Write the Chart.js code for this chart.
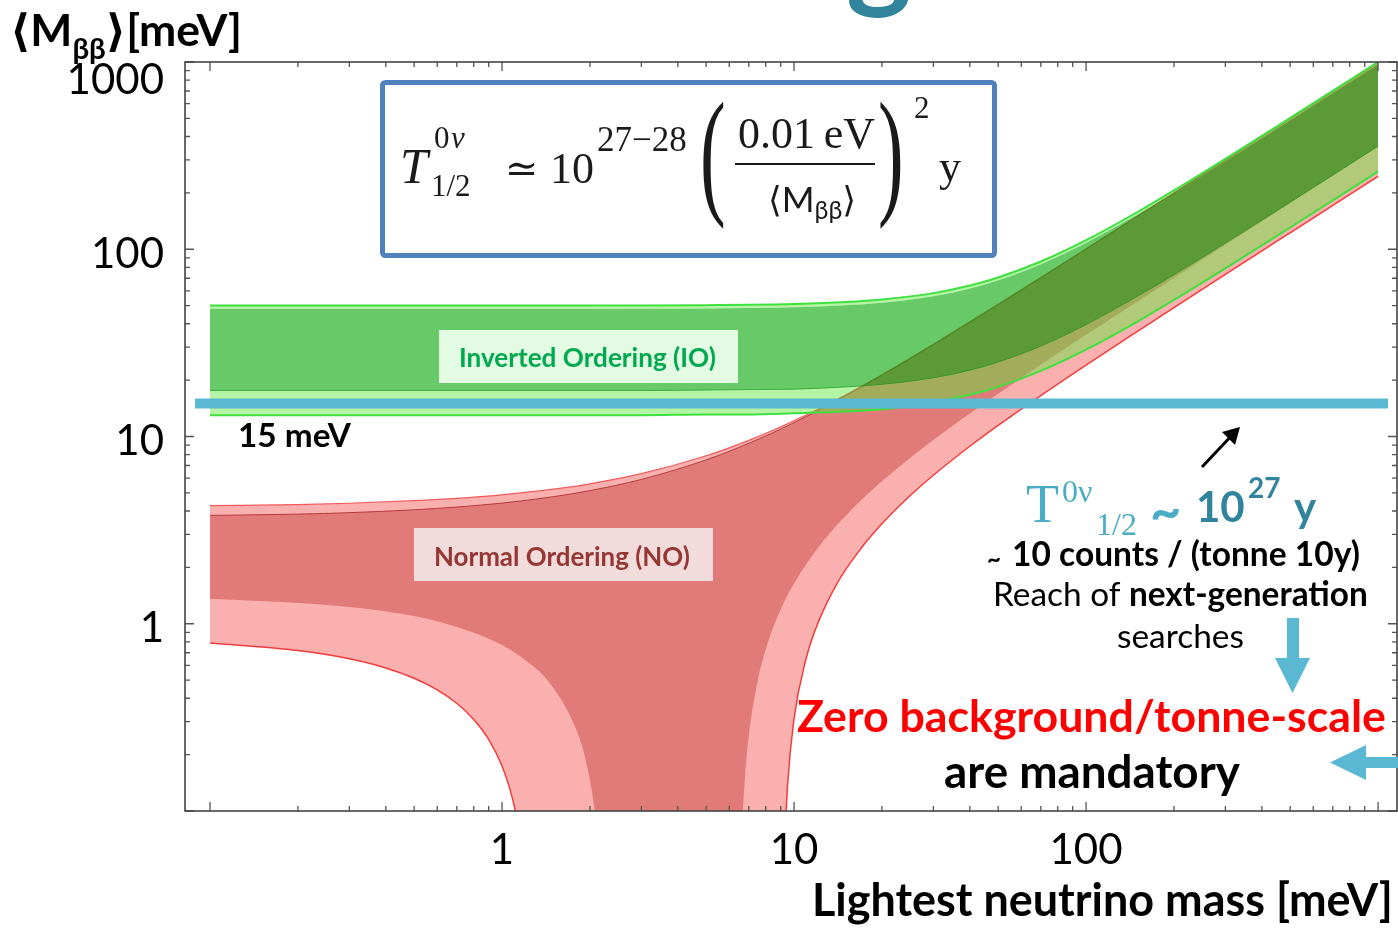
<!DOCTYPE html>
<html>
<head>
<meta charset="utf-8">
<title>Effective Majorana mass vs lightest neutrino mass</title>
<script src="https://cdn.jsdelivr.net/npm/chart.js@4.4.1/dist/chart.umd.min.js"></script>
<style>
  html, body { margin: 0; padding: 0; background: #ffffff; }
  #wrap { position: relative; width: 1398px; height: 929px; }
  canvas { display: block; }
</style>
</head>
<body>
<div id="wrap"><canvas id="chart" width="1398" height="929"></canvas></div>
<script>
// ---- Allowed bands of <M_bb> [meV] versus the lightest neutrino mass [meV] ----

// Inverted ordering, sampled on a common mass grid
const ioMass       = [0.1, 1, 3, 5, 7, 10, 15, 20, 30, 40, 50, 70, 100, 150, 200, 300, 500, 700, 1000];
const ioLightUpper = [50.0, 50.0, 50.1, 50.3, 50.5, 51.0, 52.2, 53.9, 58.3, 64.0, 70.7, 86.0, 111.8, 158.1, 206.2, 304.1, 502.5, 701.8, 1001];
const ioDarkUpper  = [48.0, 48.0, 48.1, 48.3, 48.5, 49.0, 50.2, 51.8, 56.1, 61.7, 68.3, 83.2, 108.2, 153.2, 199.9, 294.9, 487.4, 680.7, 971];
const ioDarkLower  = [17.6, 17.6, 17.6, 17.7, 17.8, 17.9, 18.4, 19.0, 20.6, 22.6, 25.0, 30.4, 39.6, 56.1, 73.1, 107.9, 178.4, 249.1, 355.4];
const ioLightLower = [13.0, 13.0, 13.0, 13.1, 13.1, 13.3, 13.6, 14.0, 15.2, 16.7, 18.4, 22.4, 29.1, 41.1, 53.6, 79.1, 130.7, 182.5, 260.3];

// Normal ordering, upper edges
const noUpperMass  = [0.1, 0.2, 0.3, 0.5, 0.7, 1, 1.5, 2, 3, 5, 7, 10, 15, 20, 30, 50, 70, 100, 150, 200, 300, 500, 700, 1000];
const noLightUpper = [4.27, 4.33, 4.40, 4.54, 4.67, 4.88, 5.23, 5.59, 6.33, 7.89, 9.54, 12.14, 16.67, 21.34, 31.1, 50.8, 70.6, 100.5, 150.5, 200.5, 300.5, 500, 700, 1000];
const noDarkUpper  = [3.79, 3.85, 3.92, 4.06, 4.20, 4.41, 4.77, 5.14, 5.90, 7.50, 9.20, 11.86, 16.49, 21.24, 30.92, 50.56, 70.34, 100.1, 149.9, 199.7, 299.4, 498.8, 698.2, 997.4];

// Normal ordering, lower edges (the mass can cancel: 0.001 sits below the axis floor)
const noDarkLowerMass = [0.1, 0.2, 0.3, 0.5, 0.7, 1, 1.2, 1.4, 1.6, 1.8, 1.9, 2, 2.05, 2.1, 2.2, 2.25, 4, 6.5, 6.6, 6.7, 6.8, 7, 7.5, 8, 9, 10, 12, 15, 20, 30, 50, 70, 100, 150, 200, 300, 500, 700, 1000];
const noDarkLower     = [1.36, 1.29, 1.23, 1.10, 0.96, 0.77, 0.64, 0.52, 0.39, 0.27, 0.21, 0.146, 0.116, 0.086, 0.026, 0.001, 0.001, 0.001, 0.059, 0.108, 0.156, 0.253, 0.49, 0.73, 1.19, 1.64, 2.51, 3.76, 5.76, 9.58, 16.9, 24.2, 34.9, 52.6, 70.3, 105.7, 176.2, 246.8, 352.6];
const noLightLowerMass = [0.1, 0.2, 0.3, 0.4, 0.5, 0.6, 0.7, 0.8, 0.9, 1, 1.05, 1.1, 1.15, 1.2, 1.25, 5, 9.1, 9.2, 9.3, 9.5, 10, 11, 12, 14, 17, 20, 25, 30, 40, 50, 70, 100, 150, 200, 300, 500, 700, 1000];
const noLightLower     = [0.789, 0.719, 0.650, 0.581, 0.512, 0.444, 0.376, 0.308, 0.241, 0.174, 0.140, 0.107, 0.073, 0.040, 0.001, 0.001, 0.001, 0.030, 0.065, 0.136, 0.311, 0.652, 0.984, 1.63, 2.54, 3.42, 4.84, 6.21, 8.87, 11.46, 16.55, 24.07, 36.45, 48.78, 73.35, 122.4, 171.4, 245.0];

// Next-generation reach (meV) and the span of its marker line (lightest mass, meV)
const reachValue = 15;
const reachSpan  = [0.0889, 1082];

// Axis ranges and labelled ticks
const xRange = [0.0821, 1161];
const yRange = [0.1, 1000];
const xTickLabels = [1, 10, 100];
const yTickLabels = [1, 10, 100, 1000];

// ---- styling ----
const LATO  = 'Lato, "DejaVu Sans", sans-serif';
const SERIF = '"Liberation Serif", "DejaVu Serif", serif';
const IO_LIGHT = 'rgba(89,233,55,0.45)';
const IO_DARK  = 'rgba(18,171,18,0.645)';
const NO_LIGHT = '#fbb0b0';
const NO_DARK  = '#e07b79';
const REACH_BLUE = '#5bb8d3';

const pts = (xs, ys) => xs.map((x, i) => ({ x, y: ys[i] }));
const near = (v, list) => list.some(t => Math.abs(v - t) < t * 1e-6);

// frame and inward tick marks, placed through the chart's own scales
const frameTicks = {
  id: 'frameTicks',
  afterDatasetsDraw(chart) {
    const { ctx, chartArea: a, scales: { x, y } } = chart;
    ctx.save();
    ctx.strokeStyle = '#555';
    ctx.lineWidth = 1.3;
    const vals = [];
    for (const d of [0.1, 1, 10, 100]) for (let k = 1; k <= 9; k++) vals.push({ v: d * k, major: k === 1 });
    vals.push({ v: 1000, major: true });
    ctx.beginPath();
    for (const { v, major } of vals) {
      const len = major ? 9 : 5;
      const px = x.getPixelForValue(v);
      if (px >= a.left && px <= a.right) {
        ctx.moveTo(px, a.bottom); ctx.lineTo(px, a.bottom - len);
        ctx.moveTo(px, a.top); ctx.lineTo(px, a.top + len);
      }
      const py = y.getPixelForValue(v);
      if (py >= a.top - 0.5 && py <= a.bottom + 0.5) {
        ctx.moveTo(a.left, py); ctx.lineTo(a.left + len, py);
        ctx.moveTo(a.right, py); ctx.lineTo(a.right - len, py);
      }
    }
    ctx.stroke();
    ctx.strokeStyle = '#444';
    ctx.lineWidth = 1.6;
    ctx.strokeRect(a.left, a.top, a.right - a.left, a.bottom - a.top);
    ctx.restore();
  }
};

// text runs scaled so that the whole run spans a given width
function fittedScale(ctx, parts, width) {
  let w = 0;
  for (const p of parts) { ctx.font = `${p.weight || 'normal'} ${p.size || 100}px ${p.family || LATO}`; w += ctx.measureText(p.t).width; }
  return width / w;
}
function drawRun(ctx, parts, x0, x1, baseline) {
  const k = fittedScale(ctx, parts, x1 - x0);
  let x = x0;
  ctx.textAlign = 'left';
  ctx.textBaseline = 'alphabetic';
  for (const p of parts) {
    ctx.font = `${p.weight || 'normal'} ${(p.size || 100) * k}px ${p.family || LATO}`;
    ctx.fillStyle = p.color || '#000';
    ctx.fillText(p.t, x, baseline + (p.dy || 0) * k);
    x += ctx.measureText(p.t).width;
  }
}
function put(ctx, t, x, y, font, color, align) {
  ctx.font = font;
  ctx.fillStyle = color;
  ctx.textAlign = align || 'left';
  ctx.textBaseline = 'alphabetic';
  ctx.fillText(t, x, y);
}
function bigParen(ctx, ch, x, baseline) {
  ctx.save();
  ctx.translate(x, baseline);
  ctx.scale(0.55, 1);
  ctx.font = `140px ${SERIF}`;
  ctx.fillStyle = '#1a1a1a';
  ctx.textAlign = 'left';
  ctx.fillText(ch, 0, 0);
  ctx.restore();
}

const annotations = {
  id: 'annotations',
  afterDraw(chart) {
    const ctx = chart.ctx;
    ctx.save();

    // partial heading glyph cut by the top edge
    put(ctx, 'g', 846, -5, `bold 125px ${LATO}`, '#31849b');

    // y-axis title
    drawRun(ctx, [
      { t: '\u27E8', weight: 'bold', size: 100 },
      { t: 'M', weight: 'bold', size: 100 },
      { t: '\u03B2\u03B2', weight: 'bold', size: 66, dy: 30 },
      { t: '\u27E9', weight: 'bold', size: 100 },
      { t: '[meV]', weight: 'bold', size: 100 }
    ], 10, 242, 46);

    // x-axis title
    drawRun(ctx, [{ t: 'Lightest neutrino mass [meV]', weight: 'bold' }], 812, 1393, 916);

    // formula box
    ctx.fillStyle = '#fff';
    ctx.fillRect(382, 82, 613, 174);
    ctx.strokeStyle = '#4f81bd';
    ctx.lineWidth = 5;
    ctx.beginPath();
    ctx.roundRect(382.5, 82.5, 612, 173, 3);
    ctx.stroke();

    const ink = '#1a1a1a';
    put(ctx, 'T', 400, 183, `italic 50px ${SERIF}`, ink);
    put(ctx, '0', 434, 148, `31px ${SERIF}`, ink);
    put(ctx, '\u03BD', 451, 148, `italic 31px ${SERIF}`, ink);
    put(ctx, '1/2', 431, 196, `31px ${SERIF}`, ink);
    put(ctx, '\u2243', 505, 182, `40px "DejaVu Serif", ${SERIF}`, ink);
    put(ctx, '10', 550, 183, `44px ${SERIF}`, ink);
    put(ctx, '27\u221228', 597, 151, `35px ${SERIF}`, ink);
    bigParen(ctx, '(', 700, 199);
    put(ctx, '0.01\u2009eV', 738, 148, `44px ${SERIF}`, ink);
    ctx.fillStyle = ink;
    ctx.fillRect(735, 163, 140, 2);
    drawRun(ctx, [
      { t: '\u27E8', size: 100, color: ink },
      { t: 'M', size: 100, color: ink },
      { t: '\u03B2\u03B2', size: 70, dy: 20, color: ink },
      { t: '\u27E9', size: 100, color: ink }
    ], 768, 856, 212);
    bigParen(ctx, ')', 878, 199);
    put(ctx, '2', 914, 118, `31px ${SERIF}`, ink);
    put(ctx, 'y', 939, 181, `44px ${SERIF}`, ink);

    // band labels
    ctx.fillStyle = '#e2fbe2';
    ctx.fillRect(439, 330, 299, 53);
    drawRun(ctx, [{ t: 'Inverted Ordering (IO)', weight: 'bold', color: '#00a84f' }], 459, 716, 367);
    ctx.fillStyle = '#f2dcdb';
    ctx.fillRect(414, 528, 299, 53);
    drawRun(ctx, [{ t: 'Normal Ordering (NO)', weight: 'bold', color: '#953735' }], 434, 690, 566);

    // reach label
    drawRun(ctx, [{ t: '15 meV', weight: 'bold' }], 238, 351, 447);

    // pointer to the reach line
    ctx.strokeStyle = '#000';
    ctx.lineWidth = 3;
    ctx.beginPath();
    ctx.moveTo(1202, 467); ctx.lineTo(1235, 432);
    ctx.stroke();
    ctx.fillStyle = '#000';
    ctx.beginPath();
    ctx.moveTo(1240, 427); ctx.lineTo(1222, 432); ctx.lineTo(1235, 445);
    ctx.closePath(); ctx.fill();

    // half-life statement
    put(ctx, 'T', 1026, 522, `54px ${SERIF}`, '#4bacc6');
    put(ctx, '0\u03BD', 1062, 502, `32px ${SERIF}`, '#4bacc6');
    put(ctx, '1/2', 1096, 535, `32px ${SERIF}`, '#4bacc6');
    put(ctx, '~', 1150, 530, `bold 54px ${LATO}`, '#4bacc6');
    put(ctx, '10', 1196, 522, `bold 42px ${LATO}`, '#31849b');
    put(ctx, '27', 1248, 498, `bold 28px ${LATO}`, '#31849b');
    put(ctx, 'y', 1294, 522, `bold 42px ${LATO}`, '#31849b');

    put(ctx, '~', 987, 568, `bold 24px ${LATO}`, '#000');
    drawRun(ctx, [{ t: '10 counts / (tonne 10y)', weight: 'bold' }], 1012, 1360, 566);
    drawRun(ctx, [{ t: 'Reach of ' }, { t: 'next-generation', weight: 'bold' }], 993, 1368, 606);
    drawRun(ctx, [{ t: 'searches' }], 1117, 1244, 648);

    // down arrow
    ctx.fillStyle = REACH_BLUE;
    ctx.fillRect(1287, 618, 12, 42);
    ctx.beginPath();
    ctx.moveTo(1275, 658); ctx.lineTo(1310, 658); ctx.lineTo(1292.5, 693);
    ctx.closePath(); ctx.fill();

    drawRun(ctx, [{ t: 'Zero background/tonne-scale', weight: 'bold', color: '#ff0000' }], 797, 1386, 732);
    drawRun(ctx, [{ t: 'are mandatory', weight: 'bold' }], 944, 1240, 788);

    // left arrow at the edge
    ctx.fillStyle = REACH_BLUE;
    ctx.fillRect(1364, 757, 34, 11);
    ctx.beginPath();
    ctx.moveTo(1330, 762.5); ctx.lineTo(1366, 745); ctx.lineTo(1366, 780);
    ctx.closePath(); ctx.fill();

    ctx.restore();
  }
};

const datasets = [
  { label: 'reach', data: [{ x: reachSpan[0], y: reachValue }, { x: reachSpan[1], y: reachValue }],
    borderColor: REACH_BLUE, borderWidth: 10, borderCapStyle: 'butt', fill: false, cubicInterpolationMode: 'default' },
  { label: 'IO 3σ lower', data: pts(ioMass, ioLightLower), borderColor: '#3fe03f', borderWidth: 2, fill: false },
  { label: 'IO 3σ upper', data: pts(ioMass, ioLightUpper), borderColor: '#3fe03f', borderWidth: 2,
    backgroundColor: IO_LIGHT, fill: 3 },
  { label: 'IO best-fit upper', data: pts(ioMass, ioDarkUpper), borderColor: 'transparent', borderWidth: 0,
    backgroundColor: IO_DARK, fill: 4 },
  { label: 'IO best-fit lower', data: pts(ioMass, ioDarkLower), borderColor: 'rgba(30,140,30,0.7)', borderWidth: 1,
    backgroundColor: IO_LIGHT, fill: 1 },
  { label: 'NO 3σ lower', data: pts(noLightLowerMass, noLightLower), borderColor: '#f03c3c', borderWidth: 1.5, fill: false },
  { label: 'NO best-fit lower', data: pts(noDarkLowerMass, noDarkLower), borderColor: 'transparent', borderWidth: 0, fill: false },
  { label: 'NO best-fit upper', data: pts(noUpperMass, noDarkUpper), borderColor: '#b43c3c', borderWidth: 1,
    backgroundColor: NO_DARK, fill: 6 },
  { label: 'NO 3σ upper', data: pts(noUpperMass, noLightUpper), borderColor: '#f05a5a', borderWidth: 1.2,
    backgroundColor: NO_LIGHT, fill: 5 }
];

new Chart(document.getElementById('chart'), {
  type: 'line',
  data: { datasets },
  plugins: [frameTicks, annotations],
  options: {
    responsive: false,
    animation: false,
    devicePixelRatio: 1,
    events: [],
    layout: { padding: { top: 62, right: 1, left: 0, bottom: 0 } },
    elements: {
      point: { radius: 0, hoverRadius: 0 },
      line: { cubicInterpolationMode: 'monotone' }
    },
    plugins: { legend: { display: false }, tooltip: { enabled: false } },
    scales: {
      x: {
        type: 'logarithmic', position: 'bottom', min: xRange[0], max: xRange[1],
        grid: { display: false }, border: { display: false },
        afterFit: s => { s.height = 118; s.paddingLeft = 0; s.paddingRight = 0; },
        ticks: {
          autoSkip: false, maxRotation: 0, minRotation: 0, padding: 6, color: '#000',
          font: { family: LATO, size: 42 },
          callback: v => near(v, xTickLabels) ? String(Math.round(v)) : ''
        }
      },
      y: {
        type: 'logarithmic', position: 'left', min: yRange[0], max: yRange[1],
        grid: { display: false }, border: { display: false },
        afterFit: s => { s.width = 185; },
        ticks: {
          autoSkip: false, padding: 13, labelOffset: 5, color: '#000',
          font: c => (c.tick && near(c.tick.value, [1000])) ? { family: LATO, size: 42, lineHeight: 0.62 } : { family: LATO, size: 42 },
          callback: v => near(v, yTickLabels) ? (near(v, [1000]) ? ['', '1000'] : String(Math.round(v))) : ''
        }
      }
    }
  }
});
</script>
</body>
</html>
